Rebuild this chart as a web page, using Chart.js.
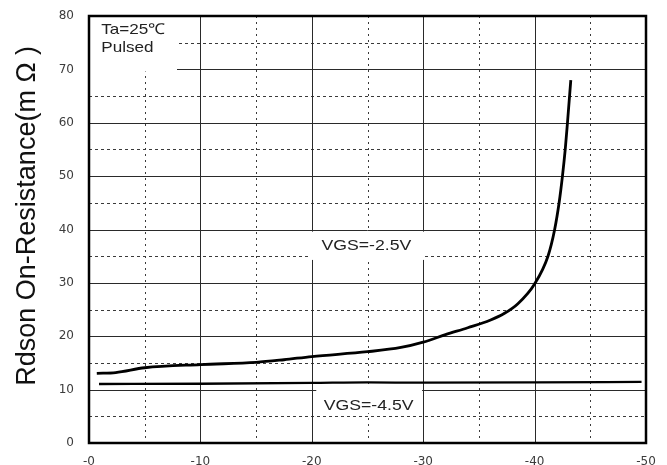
<!DOCTYPE html>
<html>
<head>
<meta charset="utf-8">
<script src="https://cdn.jsdelivr.net/npm/chart.js@4.4.0/dist/chart.umd.min.js"></script>
<style>
  html, body { margin: 0; padding: 0; background: #fff; }
  #wrap { width: 667px; height: 465px; }
</style>
</head>
<body>
<div id="wrap"><canvas id="c" width="667" height="465"></canvas></div>
<script>
// ---- data ----
const vdsA = [-0.7, -2.4, -5, -10, -15, -17.5, -20, -25, -28, -30, -32, -34, -36, -37.3, -38.5, -40, -41.2, -41.8, -42.2, -42.5, -42.75, -42.95, -43.25];
const rdsA = [13.05, 13.2, 14.1, 14.7, 15.1, 15.6, 16.2, 17.1, 17.9, 18.9, 20.3, 21.6, 23.0, 24.3, 26.1, 29.8, 35, 40, 45, 50, 55, 60, 68];
const vdsB = [-0.9, -10, -20, -25, -30, -40, -49.6];
const rdsB = [11.05, 11.1, 11.25, 11.35, 11.3, 11.35, 11.45];

const xTickValues = [0, -10, -20, -30, -40, -50];
const xTickLabels = ['-0', '-10', '-20', '-30', '-40', '-50'];
const yTickValues = [0, 10, 20, 30, 40, 50, 60, 70, 80];
const yTickLabels = ['0', '10', '20', '30', '40', '50', '60', '70', '80'];
const xMajorGrid = [-10, -20, -30, -40];
const xMinorGrid = [-5, -15, -25, -35, -45];
const yMajorGrid = [10, 20, 30, 40, 50, 60, 70];
const yMinorGrid = [5, 15, 25, 35, 45, 55, 65, 75];

const seriesNames = ['VGS=-2.5V', 'VGS=-4.5V'];
const yTitle = 'Rdson On-Resistance(m Ω )';
const noteLines = ['Ta=25\u2103', 'Pulsed'];

const toPts = (xs, ys) => xs.map((v, i) => ({ x: v, y: ys[i] }));

const TXT_FONT = '"Liberation Sans", Arial, sans-serif';

function stretchedText(ctx, text, x, y, size, align) {
  ctx.save();
  ctx.font = size + 'px ' + TXT_FONT;
  ctx.textBaseline = 'middle';
  ctx.textAlign = align;
  ctx.translate(x, y);
  ctx.scale(1.14, 1);
  ctx.fillText(text, 0, 0);
  ctx.restore();
}

const gridPlugin = {
  id: 'customGrid',
  beforeDatasetsDraw(chart) {
    const { ctx, chartArea: a, scales: { x, y } } = chart;
    ctx.save();
    const crisp = v => Math.round(v) + 0.5;
    // minor dotted lines
    ctx.lineWidth = 1;
    ctx.strokeStyle = '#3a3a3a';
    ctx.setLineDash([3, 3]);
    yMinorGrid.forEach(v => {
      const p = crisp(y.getPixelForValue(v));
      ctx.beginPath(); ctx.moveTo(a.left, p); ctx.lineTo(a.right, p); ctx.stroke();
    });
    ctx.setLineDash([2, 4]);
    xMinorGrid.forEach(v => {
      const p = crisp(x.getPixelForValue(v));
      ctx.beginPath(); ctx.moveTo(p, a.top); ctx.lineTo(p, a.bottom); ctx.stroke();
    });
    // major solid lines
    ctx.setLineDash([]);
    ctx.strokeStyle = '#2a2a2a';
    yMajorGrid.forEach(v => {
      const p = crisp(y.getPixelForValue(v));
      ctx.beginPath(); ctx.moveTo(a.left, p); ctx.lineTo(a.right, p); ctx.stroke();
    });
    xMajorGrid.forEach(v => {
      const p = crisp(x.getPixelForValue(v));
      ctx.beginPath(); ctx.moveTo(p, a.top); ctx.lineTo(p, a.bottom); ctx.stroke();
    });
    // white backgrounds behind annotations
    ctx.fillStyle = '#fff';
    const box = (x0, x1, y0, y1) => {
      const px0 = x.getPixelForValue(x0), px1 = x.getPixelForValue(x1);
      const py0 = y.getPixelForValue(y0), py1 = y.getPixelForValue(y1);
      ctx.fillRect(Math.min(px0, px1), Math.min(py0, py1), Math.abs(px1 - px0), Math.abs(py1 - py0));
    };
    box(0, -7.9, 80, 69.6);
    box(-19.8, -30.1, 39.6, 34.3);
    box(-20.4, -29.9, 10.3, 5.6);
    // annotation texts
    ctx.fillStyle = '#222';
    stretchedText(ctx, noteLines[0], x.getPixelForValue(-1.1), y.getPixelForValue(77.4), 15, 'left');
    stretchedText(ctx, noteLines[1], x.getPixelForValue(-1.1), y.getPixelForValue(74.1), 15, 'left');
    stretchedText(ctx, seriesNames[0], x.getPixelForValue(-24.9), y.getPixelForValue(36.9), 15.5, 'center');
    stretchedText(ctx, seriesNames[1], x.getPixelForValue(-25.1), y.getPixelForValue(7.0), 15.5, 'center');
    ctx.restore();
  },
  afterDraw(chart) {
    const { ctx, chartArea: a } = chart;
    ctx.save();
    ctx.strokeStyle = '#000';
    ctx.lineWidth = 2.5;
    ctx.strokeRect(a.left, a.top, a.right - a.left, a.bottom - a.top);
    // y-axis title
    ctx.fillStyle = '#111';
    ctx.font = '27px ' + TXT_FONT;
    ctx.textAlign = 'center';
    ctx.textBaseline = 'alphabetic';
    ctx.translate(a.left - 54, a.top + (a.bottom - a.top) * 0.468);
    ctx.rotate(-Math.PI / 2);
    ctx.fillText(yTitle, 0, 0);
    ctx.restore();
  }
};

new Chart(document.getElementById('c'), {
  type: 'scatter',
  data: {
    datasets: [
      {
        label: seriesNames[0],
        data: toPts(vdsA, rdsA),
        showLine: true,
        borderColor: '#000',
        borderWidth: 2.8,
        pointRadius: 0,
        cubicInterpolationMode: 'monotone'
      },
      {
        label: seriesNames[1],
        data: toPts(vdsB, rdsB),
        showLine: true,
        borderColor: '#000',
        borderWidth: 2.3,
        pointRadius: 0,
        cubicInterpolationMode: 'monotone'
      }
    ]
  },
  options: {
    responsive: false,
    animation: false,
    layout: { padding: { left: 0, top: 16, right: 21, bottom: 0 } },
    plugins: { legend: { display: false }, tooltip: { enabled: false } },
    scales: {
      x: {
        type: 'linear',
        min: -50, max: 0,
        reverse: true,
        grid: { display: false },
        border: { display: false },
        afterBuildTicks: s => { s.ticks = xTickValues.map(v => ({ value: v })); },
        afterFit: s => { s.height = 22; },
        ticks: {
          padding: 4,
          color: '#3c3c3c',
          font: { family: '"DejaVu Sans", sans-serif', size: 12 },
          callback: v => xTickLabels[xTickValues.indexOf(v)]
        }
      },
      y: {
        type: 'linear',
        min: 0, max: 80,
        grid: { display: false },
        border: { display: false },
        afterBuildTicks: s => { s.ticks = yTickValues.map(v => ({ value: v })); },
        afterFit: s => { s.width = 89; },
        ticks: {
          padding: 7,
          color: '#3c3c3c',
          font: { family: '"DejaVu Sans", sans-serif', size: 12 },
          callback: v => yTickLabels[yTickValues.indexOf(v)]
        }
      }
    }
  },
  plugins: [gridPlugin]
});
</script>
</body>
</html>
